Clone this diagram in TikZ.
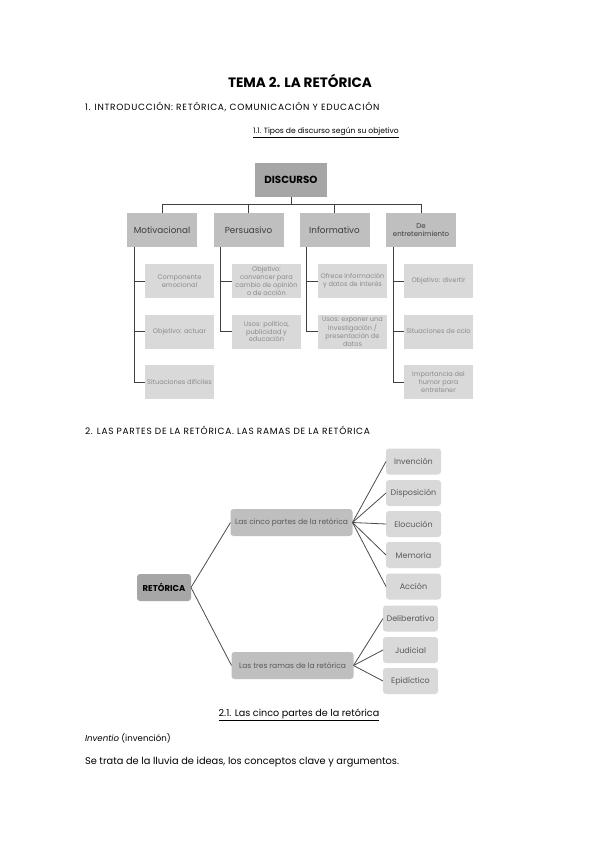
\documentclass[tikz,border=0pt]{standalone}
\usepackage{fontspec}
\setmainfont{Poppins}
\definecolor{dk}{HTML}{A6A6A6}
\definecolor{md}{HTML}{BFBFBF}
\definecolor{lt}{HTML}{D9D9D9}
\definecolor{tx1}{HTML}{3C3C3C}
\definecolor{tx2}{HTML}{8C8C8C}
\begin{document}
\begin{tikzpicture}[x=1pt,y=-1pt,
  every node/.style={inner sep=0pt, outer sep=0pt},
  topbox/.style={fill=dk, minimum width=72pt, minimum height=34pt, font=\fontsize{10.3}{12}\selectfont\bfseries},
  lvlbox/.style={fill=md, minimum width=70pt, minimum height=34pt, align=center, text=tx1, font=\fontsize{8.8}{9}\selectfont},
  kidbox/.style={fill=lt, minimum width=69pt, minimum height=34pt, align=center, text=tx2, font=\fontsize{6.6}{7.8}\selectfont},
  tline/.style={draw=black!75, line width=0.9pt},
  rootbox/.style={fill=dk, rounded corners=3pt, minimum width=54pt, minimum height=27pt, font=\fontsize{8.5}{9}\selectfont\bfseries},
  midbox/.style={fill=md, rounded corners=3pt, minimum width=122pt, minimum height=27pt, text=black!65, font=\fontsize{7.5}{8}\selectfont},
  leafbox/.style={fill=lt, rounded corners=3pt, minimum width=55pt, minimum height=26pt, text=black!65, font=\fontsize{8}{9}\selectfont},
  mline/.style={draw=black!70, line width=0.8pt},
  headtxt/.style={anchor=west, font=\fontsize{9}{10}\selectfont\addfontfeature{LetterSpace=8}}
]
\useasboundingbox (0,0) rectangle (599,848);
\fill[white] (0,0) rectangle (599,848);

% headings
\node (title) at (300,81) {\fontsize{13.6}{15}\selectfont\bfseries TEMA 2. LA RETÓRICA};
\node[headtxt] (h1) at (85,107) {1. INTRODUCCIÓN: RETÓRICA, COMUNICACIÓN Y EDUCACIÓN};
\node (h11) at (326,133) {\fontsize{7.6}{9}\selectfont\underline{1.1. Tipos de discurso según su objetivo}};

% tree
\node[topbox] (disc) at (291,179.5) {DISCURSO};
\node[lvlbox] (mot) at (162,230) {Motivacional};
\node[lvlbox] (per) at (248.5,230) {Persuasivo};
\node[lvlbox] (inf) at (334.5,230) {Informativo};
\node[lvlbox, font=\fontsize{7}{8}\selectfont] (ent) at (421,230) {De\\entretenimiento};

\coordinate (bar) at (291,204);
\draw[tline] (disc.south) -- (bar);
\draw[tline] (bar) -| (mot.north);
\draw[tline] (bar) -| (per.north);
\draw[tline] (bar) -| (inf.north);
\draw[tline] (bar) -| (ent.north);

\node[kidbox] (m1) at (179.5,281) {Componente\\emocional};
\node[kidbox] (m2) at (179.5,331.5) {Objetivo: actuar};
\node[kidbox] (m3) at (179.5,382) {Situaciones difíciles};
\node[kidbox] (p1) at (266.5,281) {Objetivo:\\convencer para\\cambio de opinión\\o de acción};
\node[kidbox] (p2) at (266.5,331.5) {Usos: política,\\publicidad y\\educación};
\node[kidbox] (i1) at (352.5,281) {Ofrece información\\y datos de interés};
\node[kidbox] (i2) at (352.5,331.5) {Usos: exponer una\\investigación /\\presentación de\\datos};
\node[kidbox] (e1) at (438.5,281) {Objetivo: divertir};
\node[kidbox] (e2) at (438.5,331.5) {Situaciones de ocio};
\node[kidbox] (e3) at (438.5,382) {Importancia del\\humor para\\entretener};

\foreach \p/\k in {mot/m1,mot/m2,mot/m3,per/p1,per/p2,inf/i1,inf/i2,ent/e1,ent/e2,ent/e3}{
  \draw[tline] ([xshift=7pt]\p.south west) |- (\k.west);
}

% section 2
\node[headtxt] (h2) at (85,430) {2. LAS PARTES DE LA RETÓRICA. LAS RAMAS DE LA RETÓRICA};

\node[rootbox] (ret) at (164,587.5) {RETÓRICA};
\node[midbox] (cinco) at (291.5,522.5) {Las cinco partes de la retórica};
\node[midbox] (tres) at (292.5,665.5) {Las tres ramas de la retórica};
\node[leafbox] (inv) at (413.5,461.5) {Invención};
\node[leafbox] (dis) at (413.5,493) {Disposición};
\node[leafbox] (elo) at (413.5,524) {Elocución};
\node[leafbox] (mem) at (413.5,555) {Memoria};
\node[leafbox] (acc) at (413.5,586.5) {Acción};
\node[leafbox] (del) at (410.5,618.5) {Deliberativo};
\node[leafbox] (jud) at (410.5,650) {Judicial};
\node[leafbox] (epi) at (410.5,681) {Epidíctico};

\draw[mline] (ret.east) -- (cinco.west);
\draw[mline] (ret.east) -- (tres.west);
\foreach \k in {inv,dis,elo,mem,acc}{ \draw[mline] (cinco.east) -- (\k.west); }
\foreach \k in {del,jud,epi}{ \draw[mline] (tres.east) -- (\k.west); }

% bottom text
\node (h21) at (299,715) {\fontsize{9.6}{11}\selectfont\underline{2.1. Las cinco partes de la retórica}};
\node[anchor=west] (inv2) at (85,738) {\fontsize{8.6}{10}\selectfont\textit{Inventio} (invención)};
\node[anchor=west] (txt) at (85,762) {\fontsize{9.8}{11}\selectfont Se trata de la lluvia de ideas, los conceptos clave y argumentos.};
\end{tikzpicture}
\end{document}
